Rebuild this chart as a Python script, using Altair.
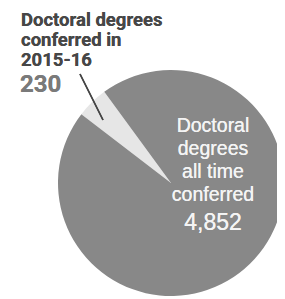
import altair as alt
import pandas as pd
import math

# Data
categories = ["Conferred in 2015-16", "All time conferred"]
values = [230, 4852]
slice_colors = ["#e6e6e6", "#888888"]
order_vals = [0, 1]

outer_lines = ["Doctoral degrees", "conferred in", "2015-16"]
outer_value = "230"
inner_lines = ["Doctoral", "degrees", "all time", "conferred"]
inner_value = "4,852"

df = pd.DataFrame({"category": categories, "value": values, "ord": order_vals})

# page has an 8px margin: chart coordinates = page coordinates - 8
start = math.radians(-52.5)
CX, CY, R = 163, 175, 113

pie = alt.Chart(df).mark_arc(radius=R, stroke=None).encode(
    theta=alt.Theta("value:Q", stack=True, scale=alt.Scale(range=[start, start + 2 * math.pi])),
    color=alt.Color("category:N", scale=alt.Scale(domain=categories, range=slice_colors), legend=None),
    order=alt.Order("ord:Q"),
    x=alt.value(CX),
    y=alt.value(CY),
)

leader = alt.Chart(df).mark_rule(color="#444444", strokeWidth=1.6).encode(
    x=alt.value(72), y=alt.value(66), x2=alt.value(95), y2=alt.value(112)
)

layers = [pie, leader]

for i, line in enumerate(outer_lines):
    layers.append(alt.Chart(df).mark_text(
        text=line, font="Roboto", fontWeight="bold", fontSize=18.5,
        align="left", baseline="alphabetic", color="#474747"
    ).encode(x=alt.value(13), y=alt.value(18 + 20 * i)))

layers.append(alt.Chart(df).mark_text(
    text=outer_value, font="Roboto", fontWeight="bold", fontSize=24,
    align="left", baseline="alphabetic", color="#7a7a7a"
).encode(x=alt.value(12), y=alt.value(84)))

for i, line in enumerate(inner_lines):
    layers.append(alt.Chart(df).mark_text(
        text=line, font="Liberation Sans", fontSize=19.5,
        align="center", baseline="alphabetic", color="#f4f4f4"
    ).encode(x=alt.value(205), y=alt.value(124 + 23 * i)))

layers.append(alt.Chart(df).mark_text(
    text=inner_value, font="Liberation Sans", fontSize=23,
    align="center", baseline="alphabetic", color="#f4f4f4"
).encode(x=alt.value(205), y=alt.value(222)))

chart = alt.layer(*layers).properties(
    width=269, height=291, padding=0, autosize="none", background="white"
).configure_view(stroke=None)

chart.save("out.html", embed_options={"renderer": "svg", "actions": False})
